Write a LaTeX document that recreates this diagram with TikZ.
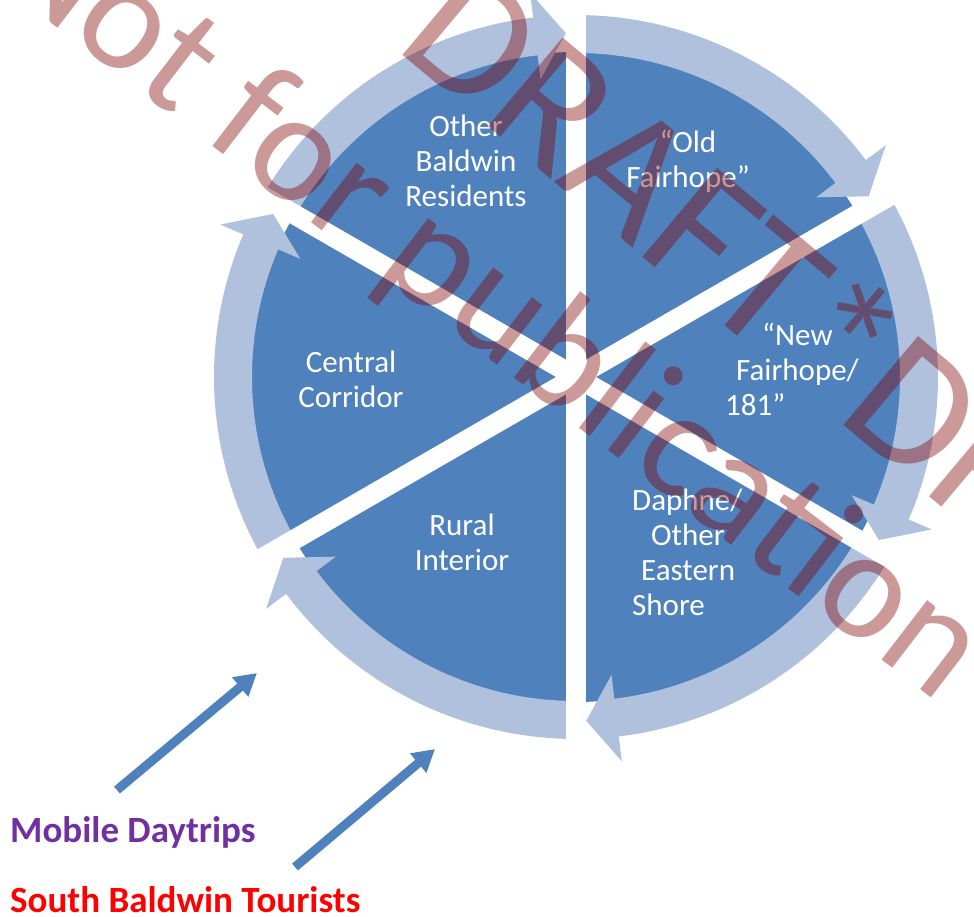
\documentclass[tikz,border=0pt]{standalone}
\usepackage{fontspec}
\setmainfont{Carlito}
\usepackage{tikz}
\usetikzlibrary{arrows.meta}
\definecolor{pie}{HTML}{4F81BD}
\definecolor{ring}{HTML}{B0C1DD}
\definecolor{mobile}{HTML}{7030A0}
\definecolor{wm}{HTML}{800000}
\newcommand{\segfont}{\fontsize{31}{35}\selectfont}
\tikzset{
  seg/.style={text=white, align=center, font=\segfont, inner sep=0pt},
  segl/.style={seg, align=left, anchor=west},
  flow/.style={-{Triangle[length=22pt,width=24pt]}, draw=pie, line width=9pt},
  legend/.style={font=\fontsize{37}{40}\selectfont\bfseries, anchor=base west, inner sep=0pt},
  wmark/.style={text=wm, opacity=0.4, text opacity=0.4, inner sep=0pt, anchor=base west},
}

\begin{document}
\begin{tikzpicture}[x=1pt, y=1pt]
\useasboundingbox (-576,-540) rectangle (398,377);
\clip (-576,-540) rectangle (398,377);
\fill[pie] (0,0) circle[radius=325];
\foreach \s in {150,90,30,-30,-90,-150}{
  \pgfmathsetmacro{\e}{\s-60}
  \fill[ring] (\s:362) arc[start angle=\s, end angle=\e+6.8, radius=362]
    -- (\e+6.8:387) -- (\e+1.7:344) -- (\e+6.8:300) -- (\e+6.8:324)
    arc[start angle=\e+6.8, end angle=\s, radius=324] -- cycle;
}
\foreach \a in {30,90,150}
  \draw[white, line width=20pt] (\a:400) -- (\a+180:400);
\node[seg] (obr) at (-110,216) {Other\\Baldwin\\Residents};
\node[seg] (ofh) at (112,216) {“Old\\Fairhope”};
\node[segl] (nfh) at (149,8) {\hspace*{37pt}“New\\\hspace*{11pt}Fairhope/\\181”};
\node[segl] (dos) at (56,-175) {Daphne/\\\hspace*{19pt}Other\\\hspace*{9pt}Eastern\\Shore};
\node[seg] (cc) at (-225,-2) {Central\\Corridor};
\node[seg] (ri) at (-114,-165) {Rural\\Interior};
\node[legend, text=mobile] (mob) at (-566,-465) {Mobile Daytrips};
\node[legend, text=red] (sbt) at (-566,-535) {South Baldwin Tourists};
\coordinate (m0) at (-459,-413);
\coordinate (m1) at (-319,-296);
\coordinate (s0) at (-281,-490);
\coordinate (s1) at (-141,-372);
\draw[flow] (m0) -- (m1);
\draw[flow] (s0) -- (s1);
\node[wmark, rotate=-40] (draft) at (-183,330) {\fontsize{181}{181}\selectfont DRAFT*DRAFT};
\node[wmark, rotate=-37.5] (nfp) at (-590,404) {\fontsize{157}{157}\selectfont Not for publication};
\end{tikzpicture}
\end{document}
